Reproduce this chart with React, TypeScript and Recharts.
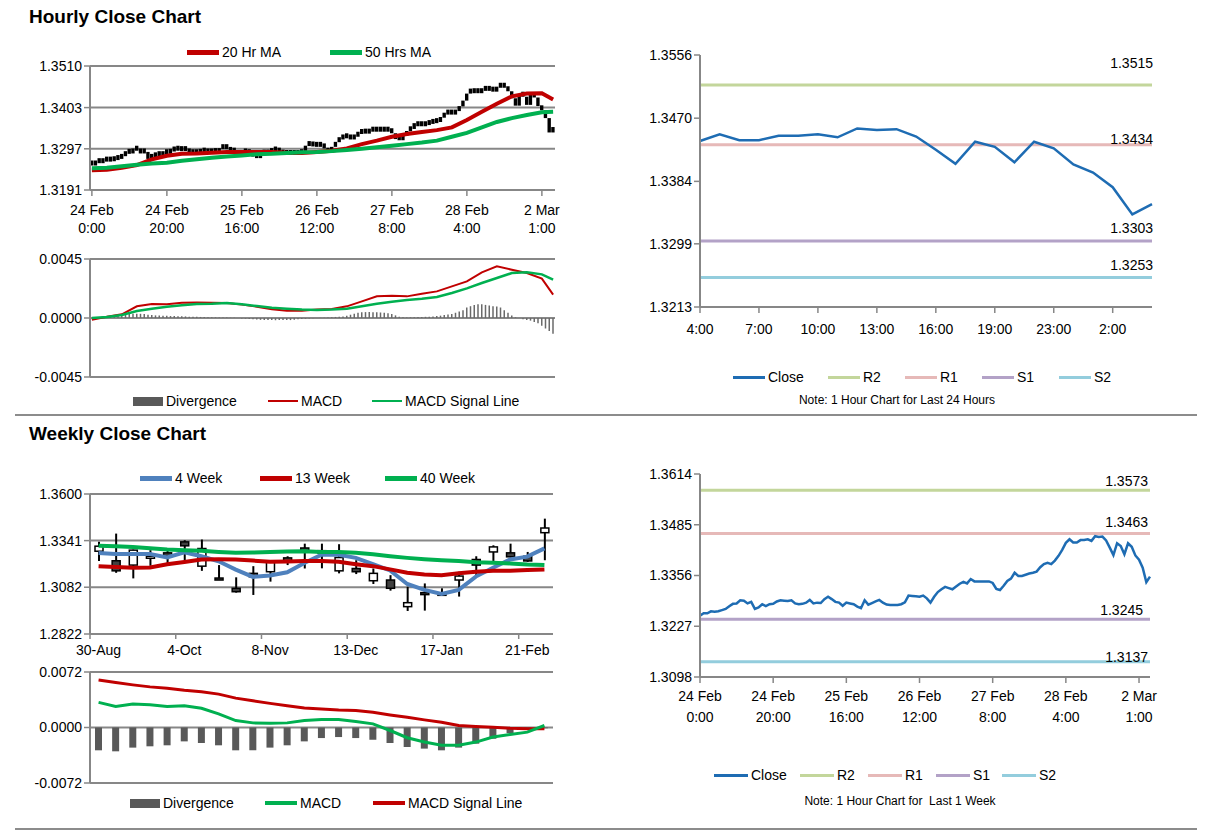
import React from "react";
import { ComposedChart, LineChart, Line, Bar, XAxis, YAxis, CartesianGrid } from "recharts";

const FONT = '"Liberation Sans", Arial, sans-serif';
const GRAY = "#878787";
const RED = "#c00000";
const GREEN = "#00b050";
const BLUE = "#1e6cb3";
const WEEK_BLUE = "#4f81bd";
const PIVOT_COLORS = ["#c3d69b", "#e6b9b8", "#b3a2c7", "#93cddd"];

// hourly close, 24 Feb 0:00 .. 2 Mar
const hourlyClose = [
  1.3254, 1.326, 1.326, 1.3265, 1.3264, 1.3265, 1.3268, 1.3271, 1.3278, 1.3284,
  1.3285, 1.3293, 1.3292, 1.3285, 1.3289, 1.3271, 1.3275, 1.3283, 1.3278, 1.3283,
  1.3284, 1.329, 1.3293, 1.3292, 1.3291, 1.3293, 1.3285, 1.3283, 1.3284, 1.3287,
  1.3294, 1.3285, 1.3287, 1.3286, 1.3296, 1.3302, 1.3296, 1.3289, 1.3287, 1.3279,
  1.3287, 1.3285, 1.3283, 1.3277, 1.3273, 1.3293, 1.3282, 1.3286, 1.329, 1.3294,
  1.3287, 1.3282, 1.3281, 1.3281, 1.3281, 1.3283, 1.3288, 1.3305, 1.3304, 1.3303,
  1.3302, 1.3305, 1.3298, 1.3287, 1.3302, 1.3314, 1.3321, 1.3327, 1.3324, 1.3321,
  1.3328, 1.3335, 1.334, 1.3336, 1.3347, 1.3341, 1.3341, 1.3341, 1.3341, 1.3341,
  1.3337, 1.3322, 1.3319, 1.333, 1.3342, 1.3348, 1.3363, 1.3355, 1.3355, 1.3358,
  1.3361, 1.3363, 1.3366, 1.3377, 1.3385, 1.3388, 1.3385, 1.3394, 1.3406, 1.3421,
  1.3439, 1.3448, 1.344, 1.344, 1.3446, 1.3446, 1.3448, 1.3444, 1.3456, 1.3454,
  1.3455, 1.3445, 1.3427, 1.3408, 1.3438, 1.3431, 1.341, 1.3438, 1.3429, 1.3407,
  1.3396, 1.3376, 1.3339, 1.3353,
];

const hourTickLabels = [
  ["24 Feb", "0:00"], ["24 Feb", "20:00"], ["25 Feb", "16:00"], ["26 Feb", "12:00"],
  ["27 Feb", "8:00"], ["28 Feb", "4:00"], ["2 Mar", "1:00"],
];

// moving averages & MACD read at these hours
const maHours = [0, 4, 8, 12, 16, 20, 24, 28, 32, 36, 40, 44, 48, 52, 56, 60, 64, 68, 72, 76, 80, 84, 88, 92, 96, 100, 104, 108, 112, 116, 120, 123];
const ma20 = [1.3242, 1.3243, 1.3248, 1.3255, 1.327, 1.3279, 1.3284, 1.3285, 1.3287, 1.3289, 1.3289, 1.3289, 1.3289, 1.3287, 1.3286, 1.3289, 1.3292, 1.3298, 1.3309, 1.3318, 1.3328, 1.3335, 1.334, 1.3345, 1.3352, 1.3371, 1.3392, 1.3413, 1.3432, 1.3439, 1.344, 1.3424];
const ma50 = [1.3247, 1.3248, 1.3252, 1.3256, 1.3259, 1.3261, 1.3266, 1.327, 1.3274, 1.3277, 1.328, 1.3283, 1.3284, 1.3286, 1.3288, 1.3289, 1.3291, 1.3294, 1.3297, 1.3301, 1.3305, 1.3309, 1.3313, 1.3318, 1.3328, 1.3338, 1.3352, 1.3366, 1.3376, 1.3384, 1.3391, 1.3392];
const macdH = [-0.00013, 0.0001, 0.00028, 0.00089, 0.00107, 0.00104, 0.00117, 0.00119, 0.00117, 0.00114, 0.00102, 0.00086, 0.00066, 0.00056, 0.00056, 0.00064, 0.00069, 0.00089, 0.00127, 0.00165, 0.0017, 0.00165, 0.00185, 0.00203, 0.00241, 0.00279, 0.00348, 0.00394, 0.00368, 0.00343, 0.003, 0.00178];
const signalH = [0, 0.00008, 0.00023, 0.00053, 0.00071, 0.00086, 0.00097, 0.00107, 0.00109, 0.00114, 0.00104, 0.00091, 0.00079, 0.00071, 0.00064, 0.00061, 0.00064, 0.00071, 0.00089, 0.00109, 0.00124, 0.00137, 0.00147, 0.0016, 0.00191, 0.00226, 0.00267, 0.00305, 0.00343, 0.00348, 0.00333, 0.00292];
const divH = [
  0, 0.00003, 0.00005, 0.00008, 0.0001, 0.00012, 0.00015, 0.0002, 0.00025, 0.0003,
  0.00032, 0.00033, 0.00033, 0.00032, 0.0003, 0.00025, 0.00022, 0.0002, 0.0002, 0.00018,
  0.00017, 0.00015, 0.00015, 0.00014, 0.00013, 0.00012, 0.0001, 0.0001, 0.00009, 0.00008,
  0.00007, 0.00006, 0.00005, 0.00005, 0.00004, 0.00004, 0.00003, 0.00002, 0.00001, 0,
  -0.00003, -0.00005, -0.00008, -0.0001, -0.00012, -0.00014, -0.00015, -0.00016, -0.00016, -0.00017,
  -0.00016, -0.00015, -0.00015, -0.00016, -0.00014, -0.0001, -0.00008, -0.00006, -0.00004, -0.00002,
  0, 0.00001, 0.00002, 0.00004, 0.00006, 0.00008, 0.0001, 0.00012, 0.00018, 0.00025,
  0.00032, 0.0004, 0.00043, 0.00045, 0.00045, 0.00044, 0.00043, 0.00042, 0.0004, 0.00036,
  0.0003, 0.0002, 0.0001, 0.00005, 0.00004, 0.00005, 0.00006, 0.00007, 0.00008, 0.00009,
  0.0001, 0.00012, 0.00015, 0.00018, 0.00022, 0.00026, 0.0003, 0.0004, 0.0005, 0.0006,
  0.0008, 0.0009, 0.001, 0.00105, 0.00105, 0.001, 0.00095, 0.0009, 0.00088, 0.0008,
  0.0006, 0.0004, 0.0002, 0.00005, 0, -0.0001, -0.00015, -0.0002, -0.0003, -0.0004,
  -0.0006, -0.0008, -0.001, -0.0012,
];

const dayHourLabels = ["4:00", "5:00", "6:00", "7:00", "8:00", "9:00", "10:00", "11:00", "12:00", "13:00", "14:00", "15:00", "16:00", "17:00", "18:00", "19:00", "20:00", "21:00", "23:00", "0:00", "1:00", "2:00", "3:00", "4:00"];

const pivotNames = ["R2", "R1", "S1", "S2"];
const dayPivots = [1.3515, 1.3434, 1.3303, 1.3253];
const weekPivots = [1.3573, 1.3463, 1.3245, 1.3137];

// weekly candles
const weekTickLabels = ["30-Aug", "4-Oct", "8-Nov", "13-Dec", "17-Jan", "21-Feb"];
const wkOpen = [1.3282, 1.3229, 1.3205, 1.3247, 1.3273, 1.3334, 1.3199, 1.3133, 1.3076, 1.3159, 1.3168, 1.3245, 1.33, 1.3285, 1.3173, 1.3186, 1.3118, 1.3122, 1.2974, 1.3052, 1.3037, 1.3122, 1.3236, 1.3278, 1.3273, 1.3254, 1.3385];
const wkHigh = [1.3334, 1.338, 1.3291, 1.3288, 1.3284, 1.3343, 1.3347, 1.3205, 1.3137, 1.3199, 1.3229, 1.3254, 1.3324, 1.3324, 1.3321, 1.3232, 1.3186, 1.3149, 1.3085, 1.3103, 1.3076, 1.3168, 1.3254, 1.3315, 1.3324, 1.3278, 1.3463];
const wkLow = [1.3227, 1.3162, 1.3131, 1.3201, 1.3214, 1.3232, 1.3173, 1.3125, 1.3052, 1.3039, 1.3113, 1.3205, 1.3186, 1.3187, 1.3159, 1.3155, 1.31, 1.3063, 1.295, 1.2952, 1.3033, 1.303, 1.314, 1.3228, 1.3247, 1.3223, 1.3232];
const wkClose = [1.331, 1.3173, 1.3288, 1.3254, 1.3254, 1.3312, 1.3297, 1.3126, 1.3057, 1.314, 1.3223, 1.3223, 1.3282, 1.3272, 1.3247, 1.3168, 1.3159, 1.3076, 1.2996, 1.3044, 1.3048, 1.3144, 1.3205, 1.3306, 1.3251, 1.3228, 1.3411];
const ma4w = [1.3272, 1.3266, 1.3266, 1.3266, 1.3248, 1.3276, 1.3254, 1.3226, 1.318, 1.3139, 1.3147, 1.3165, 1.3217, 1.3263, 1.3262, 1.3245, 1.321, 1.3175, 1.31, 1.3067, 1.3044, 1.3067, 1.3141, 1.319, 1.3236, 1.3252, 1.3298];
const ma13w = [1.3199, 1.3195, 1.319, 1.3192, 1.321, 1.3222, 1.3236, 1.3237, 1.3236, 1.323, 1.3223, 1.3225, 1.3227, 1.3227, 1.3223, 1.321, 1.3199, 1.3181, 1.3162, 1.3153, 1.3149, 1.3159, 1.3168, 1.3173, 1.3173, 1.3177, 1.3181];
const ma40w = [1.3312, 1.331, 1.3306, 1.3299, 1.3291, 1.3288, 1.3284, 1.3278, 1.3273, 1.3275, 1.3277, 1.328, 1.3282, 1.3278, 1.3277, 1.3273, 1.3265, 1.3254, 1.3245, 1.3238, 1.3232, 1.3227, 1.3221, 1.3218, 1.3214, 1.3208, 1.3205];
const wkDiv = [-0.00296, -0.00309, -0.00261, -0.00244, -0.00231, -0.0018, -0.00201, -0.00231, -0.00296, -0.00296, -0.00261, -0.00231, -0.0018, -0.00137, -0.00124, -0.00137, -0.00159, -0.00201, -0.00253, -0.00274, -0.00296, -0.00261, -0.0021, -0.00146, -0.00073, -0.0003, -0.0001];
const wkMacd = [0.00326, 0.00274, 0.00304, 0.00296, 0.00274, 0.00283, 0.00249, 0.00176, 0.0009, 0.0006, 0.00056, 0.0006, 0.0009, 0.00103, 0.00103, 0.00077, 0.00047, -0.00039, -0.00133, -0.00189, -0.00231, -0.00231, -0.00189, -0.00124, -0.0009, -0.0006, 0.00026];
const wkSignal = [0.00617, 0.00583, 0.00553, 0.00527, 0.0051, 0.00484, 0.00463, 0.00433, 0.00381, 0.00347, 0.00313, 0.00283, 0.00253, 0.0024, 0.00227, 0.00219, 0.00197, 0.00163, 0.00133, 0.00099, 0.00069, 0.00026, 0.00013, 0.00004, -0.00009, -0.00017, -0.00017];

// tables for recharts
const hourRows: any[] = hourlyClose.map((c, i) => {
  const prev = hourlyClose[Math.max(i - 1, 0)];
  return { i, close: c, bar: [Math.min(prev, c), Math.max(prev, c)], div: divH[i], ma20: null, ma50: null, macd: null, signal: null };
});
maHours.forEach((h, k) => {
  hourRows[h].ma20 = ma20[k];
  hourRows[h].ma50 = ma50[k];
  hourRows[h].macd = macdH[k];
  hourRows[h].signal = signalH[k];
});
hourRows.forEach((r) => pivotNames.forEach((n, j) => (r[n] = weekPivots[j])));

const dayRows = hourlyClose.slice(-24).map((c, k) => {
  const r: any = { h: dayHourLabels[k], close: c };
  pivotNames.forEach((n, j) => (r[n] = dayPivots[j]));
  return r;
});

const weekRows = wkClose.map((c, k) => ({
  k, open: wkOpen[k], high: wkHigh[k], low: wkLow[k], close: c, hl: [wkLow[k], wkHigh[k]],
  ma4: ma4w[k], ma13: ma13w[k], ma40: ma40w[k], div: wkDiv[k], macd: wkMacd[k], signal: wkSignal[k],
}));

const f4 = (v: number) => v.toFixed(4);
const axisLine = { stroke: GRAY, strokeWidth: 2 };
const tickLine = { stroke: GRAY, strokeWidth: 1.5 };
const tickStyle = { fill: "#000", fontSize: 14, fontFamily: FONT };

const WEEK_BAND = (570 - 17 - 90) / wkClose.length;
const WEEK_AXIS_Y = 149;

const makeHourTick = (dy1: number, dy2: number) => (p: any) => {
  const pair = hourTickLabels[Math.round(p.payload.value / 20)];
  if (!pair) return <g />;
  return (
    <text x={p.x} y={p.y} textAnchor="middle" fontSize={14} fontFamily={FONT} fill="#000">
      <tspan x={p.x} dy={dy1}>{pair[0]}</tspan>
      <tspan x={p.x} dy={dy2}>{pair[1]}</tspan>
    </text>
  );
};

function WeekTick(p: any) {
  const label = weekTickLabels[Math.round(p.payload.value / 5)];
  const bx = p.x - WEEK_BAND / 2;
  return (
    <g>
      <line x1={bx} x2={bx} y1={WEEK_AXIS_Y} y2={WEEK_AXIS_Y + 5} stroke={GRAY} strokeWidth={1.5} />
      <text x={p.x} y={WEEK_AXIS_Y + 21} textAnchor="middle" fontSize={14} fontFamily={FONT} fill="#000">{label}</text>
    </g>
  );
}

function Candle(props: any) {
  const { x, y, width, height, payload } = props;
  const top = Math.min(y, y + height);
  const h = Math.abs(height);
  const span = payload.high - payload.low || 1;
  const py = (v: number) => top + ((payload.high - v) / span) * h;
  const cx = x + width / 2;
  const b1 = py(Math.max(payload.open, payload.close));
  const b2 = py(Math.min(payload.open, payload.close));
  const up = payload.close >= payload.open;
  return (
    <g>
      <line x1={cx} x2={cx} y1={top} y2={top + h} stroke="#000" strokeWidth={2} />
      <rect x={cx - 4} y={b1} width={8} height={Math.max(b2 - b1, 2)} fill={up ? "#fff" : "#404040"} stroke="#000" strokeWidth={1.5} />
    </g>
  );
}

const pivotLabel = (text: string, dx: number, dy: number, last: number) => (p: any) => {
  const px = p.x ?? p.viewBox?.x;
  const py = p.y ?? p.viewBox?.y;
  if (p.index !== last) return <g />;
  return (
    <text x={px + dx} y={py + dy} textAnchor="end" fontSize={14} fontFamily={FONT} fill="#000">{text}</text>
  );
};

type LegendItem = { label: string; color: string; x: number; h: number; w?: number };

function LegendRow({ items, y }: { items: LegendItem[]; y: number }) {
  return (
    <>
      {items.map((it) => (
        <div key={it.label} style={{ position: "absolute", left: it.x, top: y - 10, height: 20, display: "flex", alignItems: "center", fontSize: 14, fontFamily: FONT, whiteSpace: "nowrap" }}>
          <span style={{ display: "inline-block", width: it.w ?? 32, height: it.h, background: it.color, marginRight: 3 }} />
          {it.label}
        </div>
      ))}
    </>
  );
}

function Title({ text, y }: { text: string; y: number }) {
  return (
    <div style={{ position: "absolute", left: 29, top: y - 12, fontSize: 19, fontWeight: "bold", fontFamily: FONT, whiteSpace: "nowrap" }}>{text}</div>
  );
}

function Note({ text, x, y }: { text: string; x: number; y: number }) {
  return (
    <div style={{ position: "absolute", left: x - 150, width: 300, top: y - 8, textAlign: "center", fontSize: 12, fontFamily: FONT, whiteSpace: "pre" }}>{text}</div>
  );
}

const Box = ({ left, top, children }: any) => <div style={{ position: "absolute", left, top }}>{children}</div>;

export default function App() {
  return (
    <div style={{ position: "absolute", left: 0, top: 0, width: 1212, height: 834, background: "#fff", overflow: "hidden", fontFamily: FONT, color: "#000" }}>
      <Title text="Hourly Close Chart" y={18} />
      <LegendRow y={52} items={[
        { label: "20 Hr MA", color: RED, x: 187, h: 5 },
        { label: "50 Hrs MA", color: GREEN, x: 330, h: 5 },
      ]} />
      <Box left={0} top={40}>
        <ComposedChart width={570} height={200} data={hourRows} margin={{ top: 26, right: 15, bottom: 0, left: 0 }} barGap={0} barCategoryGap={0}>
          <CartesianGrid vertical={false} stroke={GRAY} strokeWidth={2} />
          <XAxis dataKey="i" interval={19} height={50} axisLine={axisLine} tickLine={tickLine} tick={makeHourTick(17, 18)} />
          <YAxis width={90} domain={[1.3191, 1.351]} ticks={[1.3191, 1.3297, 1.3403, 1.351]} tickFormatter={f4} axisLine={axisLine} tickLine={tickLine} tick={tickStyle} />
          <Line dataKey="ma20" stroke={RED} strokeWidth={4} dot={false} connectNulls isAnimationActive={false} />
          <Line dataKey="ma50" stroke={GREEN} strokeWidth={4} dot={false} connectNulls isAnimationActive={false} />
          <Bar dataKey="bar" fill="#000" barSize={4} minPointSize={5} isAnimationActive={false} />
        </ComposedChart>
      </Box>
      <Box left={0} top={250}>
        <ComposedChart width={570} height={140} data={hourRows} margin={{ top: 9, right: 15, bottom: 13, left: 0 }}>
          <CartesianGrid vertical={false} stroke={GRAY} strokeWidth={2} />
          <XAxis dataKey="i" hide />
          <YAxis width={90} domain={[-0.0045, 0.0045]} ticks={[-0.0045, 0, 0.0045]} tickFormatter={f4} axisLine={axisLine} tickLine={tickLine} tick={tickStyle} />
          <Bar dataKey="div" fill="#6a6a6a" barSize={1.5} isAnimationActive={false} />
          <Line dataKey="macd" stroke={RED} strokeWidth={2} dot={false} connectNulls isAnimationActive={false} />
          <Line dataKey="signal" stroke={GREEN} strokeWidth={2.5} dot={false} connectNulls isAnimationActive={false} />
        </ComposedChart>
      </Box>
      <LegendRow y={401} items={[
        { label: "Divergence", color: "#595959", x: 133, h: 9, w: 30 },
        { label: "MACD", color: RED, x: 268, h: 2.5, w: 30 },
        { label: "MACD Signal Line", color: GREEN, x: 372, h: 2.5, w: 30 },
      ]} />

      <Box left={610} top={40}>
        <LineChart width={560} height={305} data={dayRows} margin={{ top: 15, right: 18, bottom: 0, left: 0 }}>
          <XAxis dataKey="h" interval={2} height={38} tickMargin={11} axisLine={axisLine} tickLine={tickLine} tick={tickStyle} />
          <YAxis width={90} domain={[1.3213, 1.3556]} ticks={[1.3213, 1.3299, 1.3384, 1.347, 1.3556]} tickFormatter={f4} axisLine={axisLine} tickLine={tickLine} tick={tickStyle} />
          {pivotNames.map((n, j) => (
            <Line key={n} dataKey={n} stroke={PIVOT_COLORS[j]} strokeWidth={3} dot={false} isAnimationActive={false}
              label={pivotLabel(f4(dayPivots[j]), 1, [-17, -1, -8, -8][j], dayRows.length - 1)} />
          ))}
          <Line dataKey="close" stroke={BLUE} strokeWidth={2.5} dot={false} isAnimationActive={false} />
        </LineChart>
      </Box>
      <LegendRow y={377} items={[
        { label: "Close", color: BLUE, x: 733, h: 3 },
        { label: "R2", color: PIVOT_COLORS[0], x: 828, h: 3 },
        { label: "R1", color: PIVOT_COLORS[1], x: 905, h: 3 },
        { label: "S1", color: PIVOT_COLORS[2], x: 982, h: 3 },
        { label: "S2", color: PIVOT_COLORS[3], x: 1059, h: 3 },
      ]} />
      <Note text="Note: 1 Hour Chart for Last 24 Hours" x={897} y={401} />

      <div style={{ position: "absolute", left: 15, top: 414, width: 1182, height: 2, background: "#8c8c8c" }} />

      <Title text="Weekly Close Chart" y={435} />
      <LegendRow y={478} items={[
        { label: "4 Week", color: WEEK_BLUE, x: 140, h: 5 },
        { label: "13 Week", color: RED, x: 260, h: 5 },
        { label: "40 Week", color: GREEN, x: 385, h: 5 },
      ]} />
      <Box left={0} top={485}>
        <ComposedChart width={570} height={180} data={weekRows} margin={{ top: 9, right: 17, bottom: 0, left: 0 }}>
          <CartesianGrid vertical={false} stroke={GRAY} strokeWidth={2} />
          <XAxis dataKey="k" interval={4} height={31} axisLine={axisLine} tickLine={false} tick={WeekTick} />
          <YAxis width={90} domain={[1.2822, 1.36]} ticks={[1.2822, 1.3082, 1.3341, 1.36]} tickFormatter={f4} axisLine={axisLine} tickLine={tickLine} tick={tickStyle} />
          <Bar dataKey="hl" barSize={8} shape={Candle} isAnimationActive={false} />
          <Line dataKey="ma4" stroke={WEEK_BLUE} strokeWidth={4} dot={false} isAnimationActive={false} />
          <Line dataKey="ma13" stroke={RED} strokeWidth={4} dot={false} isAnimationActive={false} />
          <Line dataKey="ma40" stroke={GREEN} strokeWidth={4} dot={false} isAnimationActive={false} />
        </ComposedChart>
      </Box>
      <Box left={0} top={660}>
        <ComposedChart width={570} height={135} data={weekRows} margin={{ top: 12, right: 17, bottom: 12, left: 0 }}>
          <CartesianGrid vertical={false} stroke={GRAY} strokeWidth={2} />
          <XAxis dataKey="k" hide />
          <YAxis width={90} domain={[-0.0072, 0.0072]} ticks={[-0.0072, 0, 0.0072]} tickFormatter={f4} axisLine={axisLine} tickLine={tickLine} tick={tickStyle} />
          <Bar dataKey="div" fill="#595959" barSize={7} isAnimationActive={false} />
          <Line dataKey="signal" stroke={RED} strokeWidth={3} dot={false} isAnimationActive={false} />
          <Line dataKey="macd" stroke={GREEN} strokeWidth={3} dot={false} isAnimationActive={false} />
        </ComposedChart>
      </Box>
      <LegendRow y={803} items={[
        { label: "Divergence", color: "#595959", x: 130, h: 9, w: 30 },
        { label: "MACD", color: GREEN, x: 265, h: 3.5 },
        { label: "MACD Signal Line", color: RED, x: 373, h: 3.5 },
      ]} />

      <Box left={610} top={460}>
        <LineChart width={560} height={275} data={hourRows} margin={{ top: 14, right: 20, bottom: 0, left: 0 }}>
          <XAxis dataKey="i" interval={19} height={58} axisLine={axisLine} tickLine={tickLine} tick={makeHourTick(16, 21)} />
          <YAxis width={90} domain={[1.3098, 1.3614]} ticks={[1.3098, 1.3227, 1.3356, 1.3485, 1.3614]} tickFormatter={f4} axisLine={axisLine} tickLine={tickLine} tick={tickStyle} />
          {pivotNames.map((n, j) => (
            <Line key={n} dataKey={n} stroke={PIVOT_COLORS[j]} strokeWidth={3} dot={false} isAnimationActive={false}
              label={pivotLabel(f4(weekPivots[j]), [-2, -2, -7, -2][j], [-4, -6, -4, 0][j], hourRows.length - 1)} />
          ))}
          <Line dataKey="close" stroke={BLUE} strokeWidth={2.5} dot={false} isAnimationActive={false} />
        </LineChart>
      </Box>
      <LegendRow y={775} items={[
        { label: "Close", color: BLUE, x: 714, h: 3, w: 34 },
        { label: "R2", color: PIVOT_COLORS[0], x: 800, h: 3, w: 34 },
        { label: "R1", color: PIVOT_COLORS[1], x: 868, h: 3, w: 34 },
        { label: "S1", color: PIVOT_COLORS[2], x: 936, h: 3, w: 34 },
        { label: "S2", color: PIVOT_COLORS[3], x: 1002, h: 3, w: 34 },
      ]} />
      <Note text="Note: 1 Hour Chart for  Last 1 Week" x={900} y={802} />

      <div style={{ position: "absolute", left: 15, top: 828, width: 1182, height: 2, background: "#8c8c8c" }} />
    </div>
  );
}
